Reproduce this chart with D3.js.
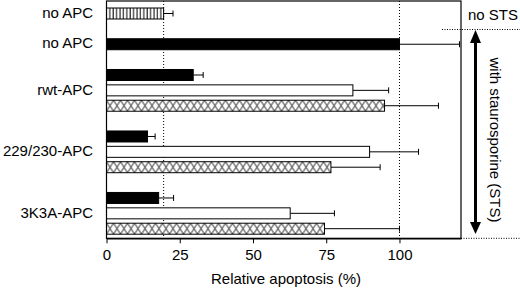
<!DOCTYPE html>
<html>
<head>
<meta charset="utf-8">
<script src="https://cdn.jsdelivr.net/npm/d3@7"></script>
<style>
  body { margin: 0; background: #fff; }
  svg { display: block; font-family: "Liberation Sans", Arial, Helvetica, sans-serif; }
  .axis text { font-size: 15px; fill: #000; }
  .axis line, .axis path { stroke: #000; }
</style>
</head>
<body>
<div id="chart"></div>
<script>
// data (relative apoptosis, %)
const groupLabels = ["no APC", "no APC", "rwt-APC", "229/230-APC", "3K3A-APC"];
const noStsMean = [19.5];
const noStsErr = [3.2];
const stsNoApcMean = [100];
const stsNoApcErr = [20.5];
const blackMean = [29.6, 14.0, 17.8];
const blackErr = [3.4, 2.6, 5.1];
const whiteMean = [84.1, 89.8, 62.7];
const whiteErr = [12.2, 16.7, 15.1];
const crossMean = [94.9, 76.6, 74.4];
const crossErr = [18.4, 16.8, 25.6];
const refLines = [19.5, 100];
const xTicks = [0, 25, 50, 75, 100];

const w = 520, h = 288;
const plotLeft = 106.5, plotRight = 461, plotTop = 1, plotBottom = 238.3;
const barH = 11;

let svg = d3.select("#chart").append("svg")
    .attr("width", w)
    .attr("height", h);

// scales
const xScale = d3.scaleLinear().domain([0, 121]).range([plotLeft, plotRight]);

// one slot per bar, with empty slots between the groups
const slots = ["n0", "g0", "s0", "g1",
    "a0", "a1", "a2", "g2",
    "b0", "b1", "b2", "g3",
    "c0", "c1", "c2"];
const yScale = d3.scalePoint().domain(slots).range([13.5, 228.7]);

// build the bar list from the arrays
let bars = [];
bars.push({ slot: "n0", v: noStsMean[0], e: noStsErr[0], kind: "vline" });
bars.push({ slot: "s0", v: stsNoApcMean[0], e: stsNoApcErr[0], kind: "black" });
["a", "b", "c"].forEach(function(g, i) {
    bars.push({ slot: g + "0", v: blackMean[i], e: blackErr[i], kind: "black" });
    bars.push({ slot: g + "1", v: whiteMean[i], e: whiteErr[i], kind: "white" });
    bars.push({ slot: g + "2", v: crossMean[i], e: crossErr[i], kind: "cross" });
});
const labelSlots = ["n0", "s0", "a1", "b1", "c1"];

// patterns
let defs = svg.append("defs");
let vl = defs.append("pattern")
    .attr("id", "vline")
    .attr("patternUnits", "userSpaceOnUse")
    .attr("width", 3.4)
    .attr("height", 10);
vl.append("rect").attr("width", 3.4).attr("height", 10).attr("fill", "#fff");
vl.append("line")
    .attr("x1", 1).attr("x2", 1).attr("y1", 0).attr("y2", 10)
    .attr("stroke", "#000").attr("stroke-width", 1);

bars.forEach(function(d, i) {
    if (d.kind !== "cross") return;
    let y0 = yScale(d.slot) - barH / 2;
    let p = defs.append("pattern")
        .attr("id", "cross" + i)
        .attr("patternUnits", "userSpaceOnUse")
        .attr("x", plotLeft).attr("y", y0)
        .attr("width", 7).attr("height", barH);
    p.append("rect").attr("width", 7).attr("height", barH).attr("fill", "#fff");
    p.append("path")
        .attr("d", "M0,0L7," + barH + "M7,0L0," + barH)
        .attr("stroke", "#000").attr("stroke-width", 0.9).attr("fill", "none");
    d.fill = "url(#cross" + i + ")";
});

function barFill(d) {
    if (d.kind === "black") return "#000";
    if (d.kind === "white") return "#fff";
    if (d.kind === "vline") return "url(#vline)";
    return d.fill;
}

// dotted reference lines
svg.selectAll(".ref").data(refLines).enter().append("line")
    .attr("class", "ref")
    .attr("x1", d => xScale(d)).attr("x2", d => xScale(d))
    .attr("y1", plotTop).attr("y2", plotBottom)
    .attr("stroke", "#000").attr("stroke-width", 1)
    .attr("stroke-dasharray", "1,2");

// error bars
let err = svg.selectAll(".err").data(bars).enter().append("g").attr("class", "err");
err.append("line")
    .attr("x1", d => xScale(d.v)).attr("x2", d => xScale(d.v + d.e))
    .attr("y1", d => yScale(d.slot)).attr("y2", d => yScale(d.slot))
    .attr("stroke", "#000").attr("stroke-width", 1);
err.append("line")
    .attr("x1", d => xScale(d.v + d.e)).attr("x2", d => xScale(d.v + d.e))
    .attr("y1", d => yScale(d.slot) - 3).attr("y2", d => yScale(d.slot) + 3)
    .attr("stroke", "#000").attr("stroke-width", 1);

// bars
svg.selectAll(".bar").data(bars).enter().append("rect")
    .attr("class", "bar")
    .attr("x", xScale(0))
    .attr("y", d => yScale(d.slot) - barH / 2)
    .attr("width", d => xScale(d.v) - xScale(0))
    .attr("height", barH)
    .attr("fill", barFill)
    .attr("stroke", "#000").attr("stroke-width", 1);

// frame
svg.append("rect")
    .attr("x", plotLeft).attr("y", plotTop)
    .attr("width", plotRight - plotLeft).attr("height", plotBottom - plotTop)
    .attr("fill", "none").attr("stroke", "#000").attr("stroke-width", 1.2);

// x axis
let axis = svg.append("g")
    .attr("class", "axis")
    .attr("transform", "translate(0," + plotBottom + ")")
    .call(d3.axisBottom(xScale).tickValues(xTicks).tickSize(5).tickSizeOuter(0).tickPadding(6));
axis.select(".domain").attr("stroke-width", 1.5);
axis.selectAll("text").style("font-family", "inherit");

svg.append("text")
    .attr("x", 286).attr("y", 284)
    .attr("text-anchor", "middle")
    .attr("font-size", 15)
    .text("Relative apoptosis (%)");

// row labels
svg.selectAll(".lab").data(groupLabels).enter().append("text")
    .attr("class", "lab")
    .attr("x", 93)
    .attr("y", (d, i) => yScale(labelSlots[i]) - 1)
    .attr("dy", "0.35em")
    .attr("text-anchor", "end")
    .attr("font-size", 15)
    .text(d => d);

// right side annotation
svg.append("text")
    .attr("x", 468).attr("y", 15).attr("dy", "0.35em")
    .attr("font-size", 15)
    .text("no STS");
svg.append("line")
    .attr("x1", 442).attr("x2", w).attr("y1", 29.5).attr("y2", 29.5)
    .attr("stroke", "#000").attr("stroke-dasharray", "1,1.5");
svg.append("line")
    .attr("x1", plotRight).attr("x2", w).attr("y1", plotBottom).attr("y2", plotBottom)
    .attr("stroke", "#000").attr("stroke-dasharray", "1,1.5");

// double headed arrow
const ax = 475.5;
svg.append("line")
    .attr("x1", ax).attr("x2", ax).attr("y1", 42).attr("y2", 224)
    .attr("stroke", "#000").attr("stroke-width", 3);
svg.append("path")
    .attr("d", "M" + ax + ",30L" + (ax - 5.5) + ",43L" + (ax + 5.5) + ",43Z")
    .attr("fill", "#000");
svg.append("path")
    .attr("d", "M" + ax + ",234L" + (ax - 5.5) + ",222L" + (ax + 5.5) + ",222Z")
    .attr("fill", "#000");
svg.append("text")
    .attr("transform", "translate(495,140) rotate(90)")
    .attr("text-anchor", "middle")
    .attr("dy", "0.35em")
    .attr("font-size", 15)
    .text("with staurosporine (STS)");
</script>
</body>
</html>
